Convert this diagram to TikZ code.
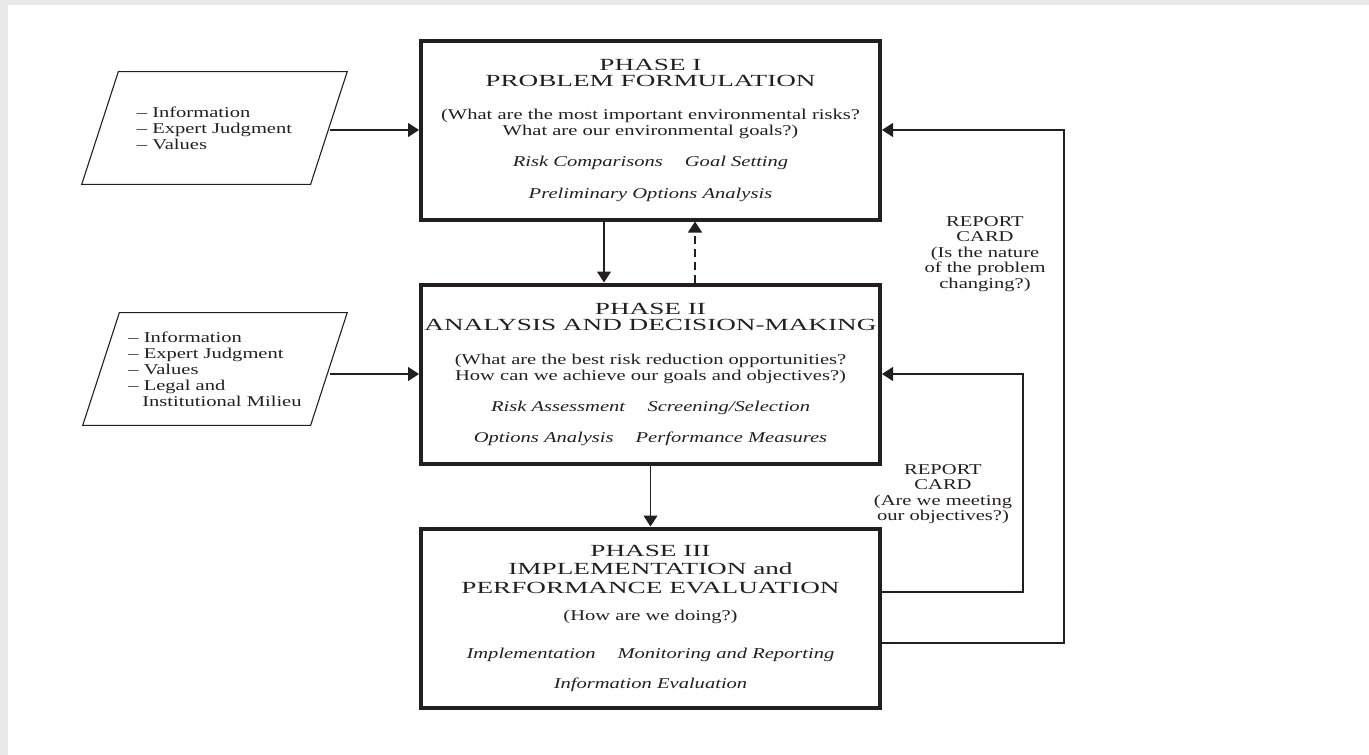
\documentclass[tikz,border=0pt]{standalone}
\usepackage{fontspec}
\setmainfont{Liberation Serif}[FakeStretch=1.37]
\newfontfamily\capsfont{Liberation Serif}[FakeStretch=1.6]
\newcommand{\phasehead}[1]{{\capsfont\fontsize{17}{16}\selectfont #1}}
\usetikzlibrary{positioning}
\usetikzlibrary{shapes.geometric}
\usetikzlibrary{arrows.meta}
\definecolor{framegray}{HTML}{E8E8E8}
\definecolor{ink}{HTML}{231F20}

\begin{document}
\begin{tikzpicture}
		[x=1pt, y=-1pt,
		phase/.style={rectangle, draw=ink, text=ink, line width=4pt, minimum width=459pt, minimum height=179pt, align=center, font=\fontsize{15}{16}\selectfont, node distance=61pt},
		source/.style={trapezium, trapezium left angle=72, trapezium right angle=108, draw=ink, text=ink, line width=1.1pt, align=left, font=\fontsize{15}{16}\selectfont, node distance=89.5pt},
		card/.style={align=center, text=ink, font=\fontsize{15}{15.5}\selectfont},
		link/.style={draw=ink, line width=1.2pt, -{Triangle[width=14pt, length=11pt]}}]
		\useasboundingbox (0,0) rectangle (1369,755);
		\fill[framegray] (0,0) rectangle (1369,5);
		\fill[framegray] (0,0) rectangle (8,755);

		\node[phase] (ph1) at (650.5,130) {\phasehead{PHASE I}\\\phasehead{PROBLEM FORMULATION}\\[17pt](What are the most important environmental risks?\\What are our environmental goals?)\\[15pt]\textit{Risk Comparisons}\hspace{22pt}\textit{Goal Setting}\\[16pt]\textit{Preliminary Options Analysis}};
		\node[phase, below=of ph1] (ph2) {\phasehead{PHASE II}\\\phasehead{ANALYSIS AND DECISION-MAKING}\\[18pt](What are the best risk reduction opportunities?\\How can we achieve our goals and objectives?)\\[15pt]\textit{Risk Assessment}\hspace{22pt}\textit{Screening/Selection}\\[15pt]\textit{Options Analysis}\hspace{22pt}\textit{Performance Measures}};
		\node[phase, below=of ph2] (ph3) {\phasehead{PHASE III}\\[2pt]\phasehead{IMPLEMENTATION and}\\[3pt]\phasehead{PERFORMANCE EVALUATION}\\[11pt](How are we doing?)\\[22pt]\textit{Implementation}\hspace{22pt}\textit{Monitoring and Reporting}\\[14pt]\textit{Information Evaluation}};

		\node[source, left=of ph1, yshift=2pt, inner xsep=18.5pt, inner ysep=35pt] (src1) {-- Information\\-- Expert Judgment\\-- Values};
		\node[source, left=of ph2, yshift=5pt, inner xsep=9pt, inner ysep=19pt] (src2) {-- Information\\-- Expert Judgment\\-- Values\\-- Legal and\\\hspace*{14pt}Institutional Milieu};

		\node[card] (card1) at (985,254) {REPORT\\CARD\\(Is the nature\\of the problem\\changing?)};
		\node[card] (card2) at (943,494) {REPORT\\CARD\\(Are we meeting\\our objectives?)};

		\draw[link] (src1.east |- ph1.west) -- (ph1.west);
		\draw[link] (src2.east |- ph2.west) -- (ph2.west);

		\draw[link] ([xshift=-46.5pt]ph1.south) -- ([xshift=-46.5pt]ph2.north);
		\draw[link, dash pattern=on 8pt off 5pt] ([xshift=44.5pt]ph2.north) -- ([xshift=44.5pt]ph1.south);
		\draw[link] (ph2) -- (ph3);

		\draw[link] ([yshift=26pt]ph3.east) -| ([xshift=141pt]ph2.east) -- (ph2.east);
		\draw[link] ([yshift=-25pt]ph3.east) -| ([xshift=182pt]ph1.east) -- (ph1.east);
	\end{tikzpicture}
\end{document}
